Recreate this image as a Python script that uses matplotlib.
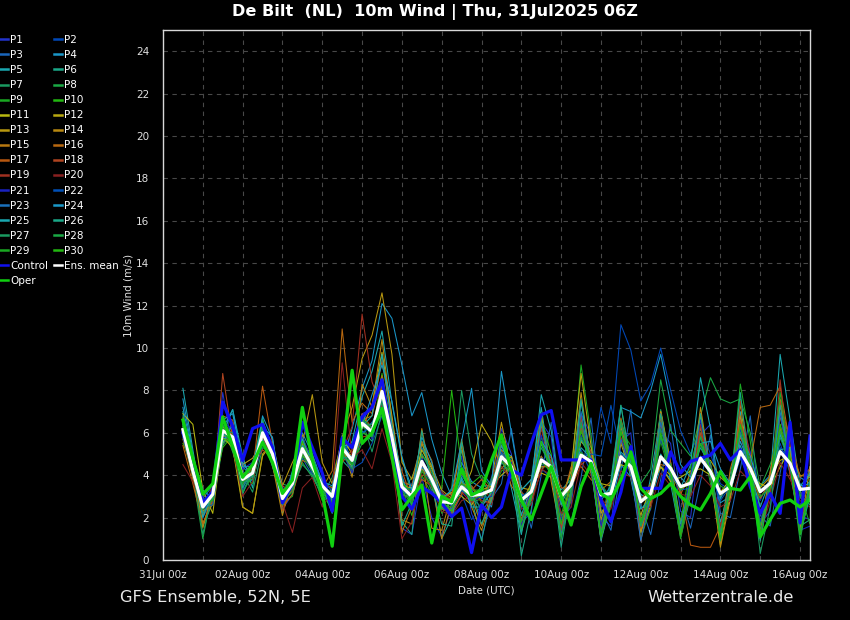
import matplotlib
matplotlib.use("Agg")
import matplotlib.pyplot as plt
import matplotlib.dates as mdates
from matplotlib.ticker import MultipleLocator
import pandas as pd

# forecast times: GFS ensemble 31Jul2025 06Z run, +6h .. +384h every 6h
times = pd.date_range("2025-07-31 12:00", periods=64, freq="6h")

# 10m wind (m/s)
ens_mean = [6.15, 4.2, 2.5, 3.1, 6.1, 5.8, 3.8, 4.1,
            6.0, 5.0, 2.9, 3.6, 5.25, 4.4, 3.5, 3.0,
            5.3, 4.7, 6.45, 6.05, 7.95, 5.8, 3.45, 3.0,
            4.65, 3.8, 2.75, 2.7, 3.45, 3.05, 3.1, 3.3,
            4.87, 4.4, 2.83, 3.22, 4.72, 4.4, 3.0, 3.54,
            4.95, 4.64, 3.07, 3.14, 4.87, 4.4, 2.75, 3.14,
            4.87, 4.32, 3.46, 3.62, 4.8, 4.17, 3.14, 3.46,
            5.11, 4.32, 3.22, 3.62, 5.11, 4.56, 3.33, 3.38]

control = [6.0, 4.5, 2.7, 3.2, 7.45, 6.3, 4.7, 6.2,
           6.4, 5.3, 2.7, 3.6, 6.5, 5.3, 4.1, 2.3,
           5.75, 5.3, 6.75, 7.2, 8.5, 5.7, 3.0, 2.4,
           3.45, 3.15, 2.7, 2.05, 2.45, 0.35, 2.6, 2.0,
           2.5, 4.25, 4.0, 5.5, 6.85, 7.05, 4.72, 4.72,
           4.72, 4.72, 2.83, 1.81, 3.2, 5.35, 3.38, 3.38,
           3.38, 5.1, 4.1, 4.65, 4.8, 4.95, 5.5, 4.72,
           5.2, 3.46, 2.2, 3.14, 2.2, 6.5, 1.75, 5.85]

oper = [6.6, 4.8, 3.1, 3.6, 6.75, 5.35, 3.9, 4.5,
        5.55, 4.6, 3.14, 3.77, 7.2, 4.72, 3.14, 0.65,
        5.0, 8.95, 5.5, 6.0, 7.15, 4.87, 2.36, 3.0,
        3.54, 0.8, 3.0, 2.75, 4.3, 3.07, 3.3, 4.7,
        5.9, 4.25, 2.83, 1.9, 3.14, 4.4, 3.0, 1.65,
        3.46, 4.56, 3.14, 2.83, 3.77, 5.1, 3.38, 2.9,
        3.14, 3.6, 3.0, 2.6, 2.36, 3.14, 4.17, 3.38,
        3.3, 3.93, 1.1, 1.9, 2.67, 2.83, 2.5, 2.83]

p01 = [5.9, 4.0, 2.2, 3.3, 7.9, 5.2, 3.4, 4.6, 6.4, 4.7, 2.4, 3.1, 5.0, 4.9, 3.2, 2.6,
       4.9, 5.5, 6.9, 7.1, 8.4, 6.3, 1.5, 1.2, 3.9, 2.0, 1.1, 2.5, 4.9, 2.2, 1.0, 2.8,
       6.2, 5.0, 1.8, 2.2, 6.5, 5.8, 1.9, 2.5, 6.9, 5.9, 2.0, 1.6, 5.6, 6.0, 1.4, 2.4,
       6.1, 5.5, 2.3, 2.0, 5.9, 6.4, 1.5, 2.8, 6.6, 5.1, 1.7, 2.3, 6.8, 5.9, 2.1, 1.9]
p02 = [6.5, 4.5, 2.0, 2.9, 6.6, 5.5, 3.3, 4.0, 5.7, 4.6, 3.2, 3.9, 5.6, 4.1, 3.0, 3.3,
       5.7, 4.3, 4.6, 5.5, 6.8, 5.9, 2.9, 3.6, 4.5, 3.2, 3.3, 2.1, 3.1, 1.9, 2.6, 3.9,
       5.5, 4.1, 2.4, 3.6, 4.3, 3.9, 2.7, 4.2, 5.2, 4.1, 7.2, 5.5, 11.1, 9.9, 7.5, 8.3,
       10.0, 8.0, 6.1, 5.0, 6.2, 5.0, 3.6, 3.3, 4.8, 3.7, 2.8, 3.9, 5.5, 4.1, 3.6, 3.1]
p03 = [6.0, 4.3, 2.9, 3.5, 5.6, 6.5, 4.2, 3.7, 5.5, 5.4, 3.4, 3.3, 4.8, 4.0, 3.9, 3.2,
       5.9, 4.0, 5.9, 6.5, 7.3, 5.0, 4.0, 2.6, 5.3, 4.4, 2.4, 2.4, 4.0, 3.3, 2.3, 2.9,
       3.6, 6.2, 3.3, 1.5, 4.0, 6.5, 2.7, 1.8, 3.9, 6.7, 2.4, 1.4, 4.2, 7.1, 2.6, 1.2,
       3.8, 6.4, 3.0, 1.5, 3.7, 5.9, 2.2, 2.0, 4.3, 6.8, 2.1, 1.6, 4.1, 6.6, 2.9, 4.4]
p04 = [7.6, 5.0, 2.7, 2.8, 6.2, 7.1, 4.4, 3.9, 6.3, 5.8, 2.6, 4.2, 6.0, 5.0, 3.7, 2.7,
       4.6, 6.2, 8.1, 9.4, 12.1, 11.4, 9.2, 6.8, 7.9, 5.7, 4.1, 3.0, 4.6, 3.7, 3.4, 2.5,
       5.2, 4.9, 3.1, 2.6, 4.9, 4.0, 3.3, 3.8, 4.6, 5.2, 3.5, 2.6, 4.5, 3.9, 3.1, 2.8,
       4.4, 3.8, 3.9, 3.4, 4.9, 4.5, 2.7, 3.0, 5.6, 4.4, 3.5, 4.0, 5.0, 5.1, 3.9, 3.6]
p05 = [8.1, 5.2, 2.4, 3.0, 5.9, 7.1, 4.9, 3.4, 6.6, 5.3, 2.2, 3.8, 4.9, 4.6, 3.4, 2.2,
       5.0, 5.6, 7.7, 8.9, 10.8, 7.4, 4.8, 3.1, 4.4, 3.6, 2.5, 2.2, 3.9, 2.8, 3.5, 3.5,
       5.1, 3.4, 1.2, 3.8, 7.2, 4.0, 1.4, 3.1, 7.5, 4.4, 0.9, 2.7, 6.4, 3.8, 1.6, 3.9,
       6.9, 3.6, 1.1, 3.0, 6.3, 4.2, 1.8, 3.5, 7.0, 3.4, 1.3, 3.8, 9.7, 6.6, 3.5, 4.0]
p06 = [7.0, 4.1, 1.6, 2.7, 6.0, 5.4, 3.1, 4.3, 5.8, 4.4, 2.8, 3.9, 5.1, 4.8, 3.6, 3.1,
       4.7, 4.2, 6.1, 5.6, 7.9, 5.5, 1.8, 1.2, 5.6, 3.7, 1.0, 2.0, 5.2, 2.9, 0.9, 3.1,
       5.8, 4.6, 0.2, 2.4, 5.5, 4.1, 1.6, 3.9, 6.1, 4.8, 1.5, 2.6, 6.5, 4.0, 1.3, 2.9,
       5.9, 4.0, 1.7, 3.9, 5.3, 4.4, 1.5, 4.1, 6.2, 3.6, 1.4, 3.3, 6.0, 4.4, 1.6, 1.9]
p07 = [6.8, 4.4, 2.9, 2.6, 5.4, 6.1, 4.1, 3.2, 5.3, 5.1, 3.6, 3.4, 5.9, 4.0, 3.0, 3.9,
       5.6, 4.8, 6.6, 5.1, 7.0, 5.3, 3.2, 3.9, 5.0, 4.1, 2.6, 3.4, 8.0, 5.0, 3.8, 3.0,
       4.4, 3.9, 2.5, 3.5, 6.8, 4.3, 1.4, 2.8, 6.7, 4.2, 1.8, 3.8, 7.3, 4.6, 1.4, 3.2,
       7.1, 4.6, 1.1, 4.0, 6.8, 4.3, 1.5, 3.0, 6.4, 3.9, 1.3, 4.1, 7.3, 4.9, 1.8, 3.0]
p08 = [6.1, 4.0, 1.0, 3.4, 6.3, 5.1, 3.5, 4.5, 6.7, 4.5, 2.5, 3.6, 4.6, 3.9, 3.1, 2.4,
       5.5, 4.5, 5.5, 6.0, 7.5, 6.0, 3.8, 2.8, 4.3, 3.3, 3.1, 2.6, 3.6, 2.7, 2.9, 3.6,
       4.8, 4.2, 2.9, 3.3, 4.5, 4.7, 3.1, 4.0, 6.3, 5.3, 3.6, 2.9, 4.8, 5.3, 3.6, 4.3,
       8.5, 6.1, 5.5, 4.9, 6.8, 8.6, 7.6, 7.4, 7.6, 6.0, 3.4, 4.5, 6.0, 5.2, 3.1, 2.6]
p09 = [6.4, 3.9, 2.3, 3.5, 5.7, 6.0, 4.0, 4.4, 6.2, 5.2, 2.7, 3.0, 5.2, 4.7, 3.3, 3.5,
       4.8, 4.6, 6.3, 6.4, 6.8, 5.1, 3.6, 3.3, 4.9, 4.5, 2.2, 2.9, 3.3, 3.5, 2.7, 3.1,
       4.2, 4.5, 3.3, 3.8, 5.8, 4.2, 2.1, 3.9, 9.2, 5.9, 1.6, 3.2, 6.1, 5.4, 1.6, 3.0,
       5.6, 3.9, 1.0, 3.2, 6.0, 3.6, 1.2, 3.4, 8.3, 5.6, 2.2, 3.0, 6.4, 4.1, 1.9, 3.2]
p10 = [5.5, 4.4, 2.6, 3.2, 5.3, 5.9, 3.9, 3.6, 5.9, 5.5, 3.0, 3.8, 5.4, 4.2, 2.8, 3.4,
       5.2, 4.1, 6.0, 5.8, 8.8, 6.2, 3.4, 2.1, 4.0, 3.1, 3.4, 8.0, 4.4, 3.6, 4.0, 3.4,
       5.6, 4.0, 1.4, 2.9, 6.7, 5.0, 1.4, 3.1, 6.4, 4.4, 1.2, 2.5, 6.2, 4.8, 1.0, 2.5,
       7.0, 4.6, 1.8, 4.4, 6.4, 4.1, 1.4, 2.9, 6.6, 4.2, 1.7, 3.6, 6.9, 4.5, 1.2, 3.8]
p11 = [6.9, 6.4, 3.3, 2.2, 5.8, 5.3, 2.5, 2.2, 4.9, 5.6, 3.1, 4.0, 5.5, 4.9, 3.3, 2.9,
       5.8, 5.0, 6.2, 7.3, 9.8, 6.8, 3.5, 3.4, 5.2, 4.3, 2.9, 3.2, 3.0, 2.6, 3.3, 3.5,
       4.0, 4.4, 2.7, 3.6, 4.1, 3.9, 3.0, 3.3, 5.6, 5.0, 3.6, 3.5, 4.5, 4.3, 2.7, 3.4,
       4.4, 3.7, 3.9, 4.2, 4.3, 4.0, 3.2, 3.8, 5.2, 4.0, 3.6, 3.4, 4.4, 5.2, 4.0, 3.9]
p12 = [6.2, 4.1, 1.7, 2.9, 5.5, 6.2, 4.5, 4.8, 5.6, 4.9, 3.3, 3.5, 5.0, 4.3, 3.8, 2.8,
       5.0, 4.4, 6.7, 6.0, 8.3, 5.6, 3.1, 2.9, 4.3, 3.9, 2.7, 2.3, 3.1, 4.2, 6.4, 5.6,
       4.3, 4.9, 3.4, 3.3, 4.4, 4.4, 2.8, 4.2, 8.8, 5.4, 2.2, 3.0, 5.5, 4.1, 2.1, 3.5,
       4.4, 4.0, 3.3, 3.7, 4.6, 4.7, 3.9, 3.5, 5.1, 4.5, 3.4, 3.9, 4.7, 4.9, 3.5, 3.0]
p13 = [6.7, 4.8, 2.3, 2.6, 6.3, 5.8, 2.5, 2.2, 5.0, 5.5, 3.5, 4.6, 5.5, 7.8, 4.6, 3.6,
       5.8, 7.2, 9.5, 10.6, 12.6, 9.7, 4.6, 3.8, 5.5, 4.4, 3.3, 2.9, 3.7, 3.0, 3.0, 3.7,
       6.5, 4.2, 1.9, 3.1, 6.9, 3.7, 1.2, 3.3, 6.8, 4.1, 1.9, 3.4, 6.3, 4.6, 1.3, 2.6,
       7.0, 4.4, 1.6, 3.3, 6.9, 4.0, 0.6, 2.9, 7.4, 3.8, 1.1, 4.1, 6.8, 4.6, 1.3, 4.4]
p14 = [5.7, 3.9, 1.5, 3.3, 5.8, 6.0, 4.1, 4.0, 5.9, 4.5, 2.1, 3.9, 5.9, 4.2, 3.8, 2.8,
       5.4, 3.9, 8.3, 7.2, 10.4, 6.6, 1.9, 1.7, 5.0, 1.5, 1.4, 3.1, 5.4, 2.5, 1.4, 2.9,
       5.0, 4.6, 1.5, 3.7, 6.4, 4.5, 1.9, 3.6, 7.9, 4.4, 1.0, 2.8, 6.4, 4.3, 1.4, 2.8,
       7.0, 4.5, 1.7, 3.5, 7.2, 4.2, 0.7, 3.2, 6.8, 4.1, 1.0, 3.5, 7.6, 5.1, 1.5, 3.6]
p15 = [6.6, 3.8, 2.1, 3.0, 5.9, 5.5, 3.6, 4.2, 6.2, 4.9, 2.7, 3.3, 5.6, 4.6, 3.2, 2.9,
       4.9, 5.0, 6.6, 6.8, 8.7, 6.0, 1.3, 2.5, 6.2, 3.8, 1.0, 2.7, 5.7, 3.0, 1.6, 3.2,
       5.2, 4.3, 1.7, 3.0, 6.3, 4.0, 1.2, 3.8, 6.2, 4.5, 1.0, 3.4, 6.7, 4.6, 1.9, 3.1,
       6.8, 4.2, 1.6, 3.5, 6.3, 4.1, 1.0, 4.3, 6.0, 4.3, 1.3, 4.2, 6.2, 4.3, 2.0, 3.2]
p16 = [5.4, 3.6, 1.7, 2.8, 6.8, 6.6, 3.9, 3.8, 6.1, 5.2, 2.5, 3.1, 4.7, 4.5, 3.4, 4.2,
       10.9, 6.5, 7.4, 6.9, 9.4, 6.5, 3.7, 3.5, 5.6, 4.7, 2.5, 2.4, 3.6, 3.4, 2.8, 2.7,
       5.0, 3.5, 2.8, 3.1, 4.9, 4.1, 2.6, 4.4, 4.4, 3.8, 3.3, 3.7, 5.6, 4.4, 2.8, 3.6,
       4.5, 4.4, 3.1, 4.1, 4.7, 4.5, 3.0, 3.5, 5.8, 4.6, 7.2, 7.3, 8.2, 5.4, 3.2, 2.8]
p17 = [6.3, 4.4, 2.6, 3.1, 6.1, 5.6, 4.5, 4.1, 8.2, 5.5, 2.3, 3.6, 5.1, 4.3, 3.6, 3.4,
       4.6, 5.2, 6.9, 6.2, 8.1, 5.8, 4.2, 2.9, 3.8, 3.5, 3.0, 3.1, 4.1, 3.3, 3.8, 3.3,
       4.6, 4.7, 3.2, 2.8, 4.2, 4.9, 3.4, 3.4, 4.5, 4.9, 3.1, 2.9, 5.0, 4.4, 1.8, 2.7,
       4.9, 4.5, 3.3, 0.7, 0.6, 0.6, 1.6, 3.6, 6.6, 4.0, 2.9, 3.7, 7.3, 5.8, 3.9, 4.3]
p18 = [6.0, 4.3, 2.2, 2.8, 8.8, 5.7, 3.6, 4.4, 5.2, 4.8, 3.5, 3.2, 5.7, 4.4, 3.5, 2.5,
       5.5, 4.6, 5.8, 5.9, 7.2, 5.2, 3.0, 3.1, 4.0, 4.0, 2.4, 2.2, 3.1, 3.5, 2.9, 3.7,
       5.4, 4.4, 1.9, 3.4, 6.6, 4.4, 1.5, 3.7, 6.2, 5.1, 1.4, 3.3, 6.6, 4.2, 1.5, 3.3,
       6.4, 4.6, 1.2, 3.8, 6.0, 4.4, 1.4, 3.3, 6.5, 4.9, 1.2, 3.2, 7.5, 4.0, 1.8, 3.4]
p19 = [5.8, 4.2, 2.5, 3.4, 6.5, 5.9, 3.7, 3.9, 5.9, 5.1, 3.0, 3.7, 5.0, 4.5, 3.3, 3.1,
       5.1, 6.3, 11.6, 8.4, 7.2, 5.4, 3.6, 2.8, 4.5, 3.6, 3.2, 2.8, 3.2, 2.7, 3.2, 3.0,
       4.9, 4.3, 1.6, 3.5, 6.2, 4.5, 1.3, 2.9, 6.8, 4.3, 1.5, 3.1, 5.8, 4.5, 0.9, 3.2,
       6.9, 4.2, 1.2, 3.2, 6.4, 3.9, 1.6, 3.3, 7.5, 4.8, 1.0, 3.2, 8.5, 4.1, 1.8, 3.3]
p20 = [4.5, 3.7, 2.4, 3.5, 6.2, 5.3, 3.0, 3.7, 5.8, 4.7, 2.7, 1.3, 3.4, 3.9, 2.5, 3.2,
       9.3, 4.8, 5.2, 4.3, 6.2, 4.6, 1.0, 1.8, 4.2, 3.4, 2.3, 2.1, 2.8, 3.0, 2.8, 2.6,
       4.4, 3.8, 2.4, 2.6, 4.3, 4.0, 2.2, 2.5, 4.6, 4.0, 2.9, 2.4, 4.2, 3.9, 2.4, 2.5,
       4.1, 3.5, 3.1, 3.0, 4.0, 3.5, 2.5, 2.8, 4.2, 3.7, 1.3, 2.8, 4.6, 3.8, 2.8, 2.5]
p21 = [6.3, 4.1, 2.8, 3.3, 6.5, 6.2, 4.3, 4.6, 6.0, 5.0, 3.1, 4.0, 5.2, 4.1, 3.7, 3.3,
       5.1, 4.1, 6.8, 5.7, 7.8, 6.0, 3.4, 3.2, 4.8, 3.9, 3.1, 2.5, 3.3, 2.8, 3.0, 3.4,
       4.7, 4.6, 1.6, 3.4, 5.9, 4.2, 1.9, 3.2, 5.9, 4.7, 1.6, 3.4, 6.1, 4.2, 1.6, 3.3,
       5.7, 4.3, 1.6, 3.9, 6.6, 4.3, 1.1, 3.6, 6.2, 4.4, 1.8, 3.6, 6.9, 4.4, 1.4, 1.6]
p22 = [5.8, 4.0, 2.5, 2.6, 5.8, 5.7, 3.8, 4.1, 5.5, 4.9, 2.9, 3.5, 5.8, 4.7, 3.6, 2.7,
       5.8, 4.6, 6.0, 6.3, 7.6, 5.6, 3.5, 3.3, 4.6, 3.7, 2.6, 2.8, 3.5, 3.2, 2.9, 3.0,
       5.1, 4.5, 3.0, 3.3, 4.8, 4.5, 2.7, 3.6, 4.9, 5.0, 4.9, 7.3, 5.0, 4.6, 2.9, 3.0,
       4.8, 4.1, 3.3, 3.4, 4.7, 4.1, 2.8, 3.5, 5.2, 4.2, 3.3, 3.7, 5.3, 4.7, 3.1, 3.5]
p23 = [6.0, 4.2, 2.6, 3.0, 6.0, 5.6, 3.6, 4.0, 6.2, 4.8, 2.8, 3.8, 5.1, 4.5, 3.2, 3.0,
       4.8, 4.9, 6.4, 6.4, 7.6, 5.4, 3.3, 2.9, 4.4, 3.8, 2.6, 2.4, 3.3, 2.9, 3.2, 3.2,
       5.0, 4.3, 1.8, 3.2, 6.5, 4.2, 1.2, 3.3, 7.0, 4.3, 1.0, 2.9, 5.7, 4.2, 0.9, 3.0,
       6.5, 4.1, 1.3, 3.5, 5.5, 4.0, 1.1, 3.4, 6.0, 4.2, 1.2, 3.5, 7.0, 4.5, 1.2, 3.1]
p24 = [7.2, 4.9, 3.3, 2.9, 6.6, 6.9, 4.6, 3.9, 6.8, 5.7, 3.1, 3.9, 5.4, 4.8, 3.7, 3.5,
       5.2, 4.7, 6.3, 7.8, 9.2, 7.5, 4.9, 3.3, 5.8, 4.6, 2.9, 3.3, 5.6, 8.1, 4.2, 3.5,
       8.9, 6.0, 3.3, 3.8, 5.6, 4.9, 3.0, 3.6, 5.7, 4.8, 2.8, 3.5, 7.2, 7.0, 6.7, 8.0,
       9.7, 7.4, 4.5, 3.9, 5.5, 5.6, 4.3, 3.6, 5.9, 4.9, 3.3, 3.6, 5.9, 4.6, 3.5, 3.6]
p25 = [6.5, 4.6, 2.0, 3.2, 5.5, 6.4, 4.4, 4.4, 6.5, 5.3, 2.6, 4.1, 5.7, 4.4, 3.1, 2.9,
       5.4, 5.4, 6.3, 6.8, 9.7, 6.4, 3.9, 2.6, 4.6, 3.6, 2.9, 2.6, 3.8, 2.5, 2.5, 3.2,
       5.4, 4.3, 2.1, 3.5, 7.8, 6.1, 2.6, 3.7, 5.3, 4.8, 3.5, 2.8, 5.1, 4.6, 2.4, 2.9,
       5.0, 4.2, 3.4, 4.5, 8.6, 6.2, 2.9, 3.8, 5.4, 4.1, 2.5, 3.8, 5.2, 5.3, 3.2, 4.1]
p26 = [6.4, 4.2, 2.2, 2.9, 5.9, 5.7, 3.4, 4.2, 5.7, 4.6, 2.9, 3.7, 5.3, 4.2, 3.3, 2.8,
       5.6, 4.4, 6.6, 6.0, 7.9, 5.6, 1.6, 2.7, 6.1, 3.5, 1.7, 1.6, 5.6, 3.3, 1.7, 2.8,
       4.6, 4.1, 1.3, 3.0, 6.6, 4.3, 0.6, 3.4, 7.6, 4.5, 1.2, 3.6, 7.3, 4.5, 1.6, 3.0,
       6.9, 4.3, 1.7, 3.6, 6.9, 4.0, 1.2, 3.4, 7.9, 4.0, 0.9, 3.5, 7.3, 4.6, 1.2, 3.0]
p27 = [6.1, 4.3, 1.2, 3.2, 6.1, 6.0, 3.7, 3.8, 6.1, 4.8, 2.6, 3.4, 4.5, 4.0, 3.0, 3.2,
       5.0, 4.3, 6.2, 6.4, 7.4, 5.7, 3.1, 2.9, 5.0, 4.2, 2.7, 2.9, 3.4, 2.9, 2.5, 3.8,
       4.7, 4.4, 2.9, 3.3, 5.3, 4.4, 1.1, 3.0, 6.5, 4.4, 1.3, 3.2, 6.4, 4.8, 1.8, 3.4,
       6.2, 4.4, 1.4, 3.6, 5.5, 4.6, 1.3, 3.8, 6.0, 4.5, 0.3, 2.5, 5.8, 4.5, 1.3, 3.7]
p28 = [6.0, 4.1, 2.4, 3.3, 6.4, 5.4, 3.2, 4.0, 6.4, 4.9, 2.8, 3.2, 4.9, 4.2, 3.4, 2.6,
       5.0, 4.5, 6.6, 5.8, 7.8, 5.2, 3.3, 2.6, 4.6, 3.9, 2.4, 2.7, 3.4, 3.1, 3.0, 3.3,
       4.8, 4.5, 1.5, 2.9, 5.6, 4.4, 1.0, 3.3, 5.8, 4.6, 1.0, 2.8, 6.6, 4.9, 1.6, 3.1,
       5.8, 4.2, 1.2, 3.3, 5.8, 4.2, 0.9, 3.6, 6.3, 4.7, 1.6, 3.6, 6.1, 4.6, 0.9, 3.5]
p29 = [5.9, 4.0, 2.5, 3.1, 6.2, 5.3, 3.6, 4.3, 5.6, 4.8, 3.2, 3.7, 5.0, 4.4, 3.1, 3.1,
       5.3, 4.5, 6.7, 6.2, 8.0, 5.9, 3.5, 2.7, 4.2, 3.5, 2.6, 2.5, 3.6, 3.3, 3.3, 3.3,
       4.7, 4.0, 2.7, 3.4, 4.7, 4.1, 2.8, 3.5, 5.1, 4.5, 3.1, 3.2, 6.0, 4.8, 2.9, 2.8,
       4.9, 4.5, 3.3, 3.8, 4.8, 4.3, 3.5, 3.2, 5.1, 4.4, 3.0, 3.4, 7.9, 4.8, 3.1, 1.7]
p30 = [6.3, 4.5, 2.7, 2.8, 5.7, 5.6, 3.9, 4.1, 5.9, 5.0, 2.7, 3.9, 5.6, 4.4, 3.5, 2.7,
       5.2, 4.7, 6.3, 6.1, 7.7, 5.6, 3.6, 3.2, 4.7, 3.7, 2.8, 2.3, 3.4, 2.8, 3.1, 3.2,
       4.9, 4.4, 1.8, 3.1, 5.6, 4.3, 1.7, 3.6, 6.1, 4.6, 1.1, 3.0, 6.1, 4.4, 1.8, 3.0,
       6.0, 4.2, 1.2, 3.7, 5.5, 4.2, 1.0, 3.4, 6.4, 4.3, 1.1, 3.5, 6.4, 4.7, 1.2, 3.4]

members = [p01, p02, p03, p04, p05, p06, p07, p08, p09, p10,
           p11, p12, p13, p14, p15, p16, p17, p18, p19, p20,
           p21, p22, p23, p24, p25, p26, p27, p28, p29, p30]

member_colors = ["#2233cc", "#0048b8", "#1a66bb", "#1a96c8", "#1aa8b0",
                 "#1aa888", "#1a9a60", "#1aa844", "#1aa822", "#22b810",
                 "#b8b810", "#b8a810", "#b89810", "#b88810", "#b87810",
                 "#b86810", "#b85810", "#b04420", "#a03020", "#882020",
                 "#1a22c0", "#0050b8", "#1a70bb", "#1a98c8", "#1aa8b0",
                 "#1aa888", "#1a9a60", "#1aa844", "#1aa822", "#22b810"]

fig = plt.figure(figsize=(8.5, 6.2), dpi=100, facecolor="black")
ax = fig.add_axes([163 / 850, 60 / 620, 647 / 850, 530 / 620])
ax.set_facecolor("black")

lines = {}
for k, (vals, col) in enumerate(zip(members, member_colors)):
    lines[f"P{k + 1}"], = ax.plot(times, vals, color=col, lw=0.75)
lines["Control"], = ax.plot(times, control, color="#1010f0", lw=2.3)
lines["Ens. mean"], = ax.plot(times, ens_mean, color="white", lw=2.3)
lines["Oper"], = ax.plot(times, oper, color="#10d010", lw=2.3)

ax.set_ylim(0, 25)
ax.set_xlim(pd.Timestamp("2025-07-31 00:00"), pd.Timestamp("2025-08-16 06:00"))
ax.yaxis.set_major_locator(MultipleLocator(2))
ax.set_xticks(pd.date_range("2025-07-31", periods=9, freq="2D"))
ax.xaxis.set_minor_locator(mdates.DayLocator())
ax.xaxis.set_major_formatter(mdates.DateFormatter("%d%b %Hz"))

ax.grid(which="both", color="#484848", linestyle=(0, (4, 4)), lw=0.8)
ax.tick_params(which="both", length=0, colors="#e0e0e0", labelsize=7.5)
ax.tick_params(axis="y", pad=10)
ax.tick_params(axis="x", pad=7)
for s in ax.spines.values():
    s.set_color("#d8d8d8")
    s.set_linewidth(1.0)

ax.set_ylabel("10m Wind (m/s)", color="#e0e0e0", fontsize=7.5)
ax.yaxis.set_label_coords(-0.046, 0.5)
ax.set_xlabel("Date (UTC)", color="#e0e0e0", fontsize=7.5, labelpad=4)

fig.text(0.512, 0.981, "De Bilt  (NL)  10m Wind | Thu, 31Jul2025 06Z",
         color="white", fontsize=11.6, fontweight="bold", ha="center", va="center")
fig.text(120 / 850, 1 - 598 / 620, "GFS Ensemble, 52N, 5E",
         color="#e8e8e8", fontsize=11.7, ha="left", va="center")
fig.text(794 / 850, 1 - 598 / 620, "Wetterzentrale.de",
         color="#e8e8e8", fontsize=11.7, ha="right", va="center")

# legend reads row by row: P1 P2 / P3 P4 / ... / Control Ens. mean / Oper
left_col = [f"P{k}" for k in range(1, 31, 2)] + ["Control", "Oper"]
right_col = [f"P{k}" for k in range(2, 31, 2)] + ["Ens. mean"]
order = left_col + right_col
leg = fig.legend([lines[n] for n in order], order, loc="upper left",
                 bbox_to_anchor=(0.0, 1 - 35 / 620), ncol=2, frameon=False,
                 fontsize=7.5, handlelength=0.8, handletextpad=0.15,
                 columnspacing=0.55, labelspacing=0.485, borderpad=0,
                 borderaxespad=0)
for t in leg.get_texts():
    t.set_color("white")
for h in leg.get_lines():
    h.set_linewidth(1.8)

fig.savefig("out.png", dpi=100, facecolor="black")
